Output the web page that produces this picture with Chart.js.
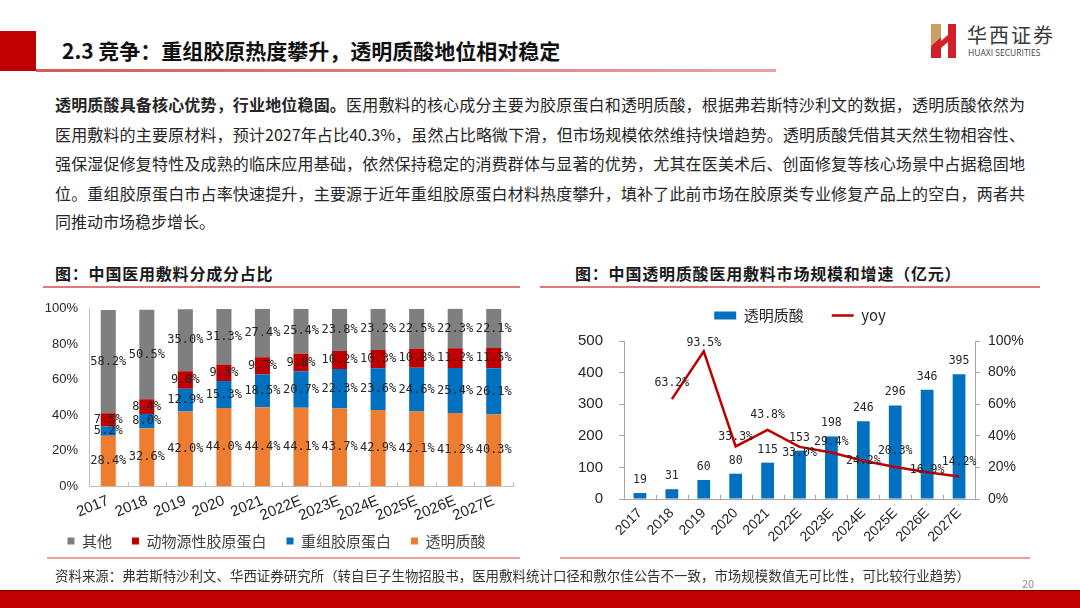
<!DOCTYPE html>
<html>
<head>
<meta charset="utf-8">
<script src="https://cdn.jsdelivr.net/npm/chart.js@4.4.1/dist/chart.umd.min.js"></script>
<style>
  body { margin:0; width:1080px; height:608px; position:relative; overflow:hidden; background:#fff;
         font-family:"Noto Sans CJK SC","Noto Sans",sans-serif; color:#262626; }
  .abs { position:absolute; }
  .line { position:absolute; left:55px; width:970px; font-size:16px; line-height:20px; white-space:nowrap;
          text-align:justify; text-align-last:justify; }
  .ctitle { position:absolute; font-size:16px; font-weight:bold; letter-spacing:0.8px; line-height:20px; color:#1a1a1a; }
  canvas { position:absolute; }
</style>
</head>
<body>
<!-- header -->
<div class="abs" style="left:0;top:31px;width:36px;height:40px;background:#c00000"></div>
<div class="abs" style="left:36px;top:69px;width:740px;height:3px;background:linear-gradient(90deg,#d65a5a,#e9a3a3)"></div>
<div class="abs" style="left:62px;top:36px;font-size:21px;font-weight:bold;line-height:28px;color:#111">2.3 竞争：重组胶原热度攀升，透明质酸地位相对稳定</div>

<svg class="abs" style="left:928px;top:22px" width="32" height="38">
  <polygon points="3,2 13,2 13,15 3,24" fill="#c9a063"/>
  <polygon points="3,24 13,15 13,36 3,36" fill="#d0202a"/>
  <polygon points="13,19 20,13 20,20 13,26" fill="#d0202a"/>
  <polygon points="20,2 28,2 28,36 20,36" fill="#d0202a"/>
</svg>
<div class="abs" style="left:967px;top:23px;font-size:20px;line-height:24px;letter-spacing:2px;color:#3a3a3a">华西证券</div>
<div class="abs" style="left:968px;top:48px;font-family:'Open Sans',sans-serif;font-size:8.5px;line-height:10px;color:#444">HUAXI SECURITIES</div>

<!-- body text -->
<div class="line" style="top:94px"><b>透明质酸具备核心优势，行业地位稳固。</b>医用敷料的核心成分主要为胶原蛋白和透明质酸，根据弗若斯特沙利文的数据，透明质酸依然为</div>
<div class="line" style="top:124px">医用敷料的主要原材料，预计2027年占比40.3%，虽然占比略微下滑，但市场规模依然维持快增趋势。透明质酸凭借其天然生物相容性、</div>
<div class="line" style="top:153px">强保湿促修复特性及成熟的临床应用基础，依然保持稳定的消费群体与显著的优势，尤其在医美术后、创面修复等核心场景中占据稳固地</div>
<div class="line" style="top:183px">位。重组胶原蛋白市占率快速提升，主要源于近年重组胶原蛋白材料热度攀升，填补了此前市场在胶原类专业修复产品上的空白，两者共</div>
<div class="line" style="top:211px;text-align-last:left">同推动市场稳步增长。</div>

<!-- chart titles -->
<div class="ctitle" style="left:55px;top:263px">图：中国医用敷料分成分占比</div>
<div class="ctitle" style="left:575px;top:263px">图：中国透明质酸医用敷料市场规模和增速（亿元）</div>
<div class="abs" style="left:43px;top:286px;width:477px;height:1.5px;background:#e07a7a"></div>
<div class="abs" style="left:540px;top:286px;width:500px;height:1.5px;background:#e07a7a"></div>

<canvas id="shareChart" width="480" height="270" style="left:40px;top:290px"></canvas>
<canvas id="sizeChart" width="480" height="265" style="left:560px;top:280px"></canvas>

<div class="abs" style="left:47px;top:557px;width:473px;height:1.5px;background:#e8a0a0"></div>
<div class="abs" style="left:560px;top:557px;width:470px;height:1.5px;background:#e8a0a0"></div>

<!-- footer -->
<div class="abs" style="left:55px;top:566px;width:915px;font-size:13.4px;line-height:18px;white-space:nowrap;text-align:justify;text-align-last:justify;color:#333">资料来源：弗若斯特沙利文、华西证券研究所（转自巨子生物招股书，医用敷料统计口径和敷尔佳公告不一致，市场规模数值无可比性，可比较行业趋势）</div>
<div class="abs" style="left:1022px;top:576px;font-size:11px;line-height:14px;color:#8c8c8c">20</div>
<div class="abs" style="left:0;top:590px;width:1080px;height:1px;background:#7a0000"></div>
<div class="abs" style="left:0;top:591px;width:1080px;height:17px;background:#c00000"></div>

<script>
"use strict";

// categories
const years = ['2017', '2018', '2019', '2020', '2021', '2022E', '2023E', '2024E', '2025E', '2026E', '2027E'];

// share of dressing ingredients (%)
const hyaluronic = [28.4, 32.6, 42.0, 44.0, 44.4, 44.1, 43.7, 42.9, 42.1, 41.2, 40.3];
const recombinant = [5.2, 8.0, 12.9, 15.3, 18.5, 20.7, 22.3, 23.6, 24.6, 25.4, 26.1];
const animalCollagen = [7.5, 8.4, 9.8, 9.3, 9.7, 9.8, 10.2, 10.3, 10.8, 11.2, 11.5];
const others = [58.2, 50.5, 35.0, 31.3, 27.4, 25.4, 23.8, 23.2, 22.5, 22.3, 22.1];

// hyaluronic acid dressing market (亿元) and growth (%)
const marketSize = [19, 31, 60, 80, 115, 153, 198, 246, 296, 346, 395];
const yoyGrowth = [null, 63.2, 93.5, 33.3, 43.8, 33.0, 29.4, 24.2, 20.3, 16.9, 14.2];

const shareTicks = [0, 20, 40, 60, 80, 100];

const tickFont = { family: 'Liberation Sans, Arial, sans-serif', size: 14 };
const cjkFont = 'Noto Sans CJK SC';

// little tick marks on the category axis, pointing up into the plot
const innerTicks = {
  id: 'innerTicks',
  afterDraw(chart, args, opts) {
    const x = chart.scales.x, ctx = chart.ctx, bottom = chart.chartArea.bottom;
    ctx.save();
    ctx.strokeStyle = opts.color;
    ctx.lineWidth = 1;
    for (let i = 1; i <= x.ticks.length; i++) {
      const px = i < x.ticks.length
        ? (x.getPixelForTick(i - 1) + x.getPixelForTick(i)) / 2
        : x.right;
      ctx.beginPath();
      ctx.moveTo(Math.round(px) + 0.5, bottom);
      ctx.lineTo(Math.round(px) + 0.5, bottom - opts.length);
      ctx.stroke();
    }
    ctx.restore();
  }
};

// fixed legend height; "shift" raises where the items are drawn (legend clips to its box,
// so only the top edge moves)
const legendHeight = {
  id: 'legendHeight',
  beforeInit(chart, args, opts) {
    const fit = chart.legend.fit;
    chart.legend.fit = function () {
      fit.call(this);
      this.height = opts.height;
    };
  },
  afterLayout(chart, args, opts) {
    if (opts.shift) chart.legend.top += opts.shift;
  }
};

const shareLabels = {
  id: 'shareLabels',
  afterDatasetsDraw(chart, args, opts) {
    const ctx = chart.ctx;
    ctx.save();
    ctx.font = opts.font;
    ctx.fillStyle = opts.color;
    ctx.textAlign = 'center';
    ctx.textBaseline = 'middle';
    chart.data.datasets.forEach((ds, di) => {
      chart.getDatasetMeta(di).data.forEach((bar, i) => {
        ctx.fillText(ds.data[i].toFixed(1) + '%', bar.x, (bar.y + bar.base) / 2);
      });
    });
    ctx.restore();
  }
};

const sizeLabels = {
  id: 'sizeLabels',
  afterDatasetsDraw(chart, args, opts) {
    const ctx = chart.ctx;
    ctx.save();
    ctx.font = opts.font;
    ctx.fillStyle = opts.color;
    ctx.textAlign = 'center';
    ctx.textBaseline = 'middle';
    chart.getDatasetMeta(0).data.forEach((bar, i) => {
      ctx.fillText(String(marketSize[i]), bar.x, bar.y - 13);
    });
    chart.getDatasetMeta(1).data.forEach((pt, i) => {
      if (yoyGrowth[i] == null) return;
      ctx.fillText(yoyGrowth[i].toFixed(1) + '%', pt.x, pt.y + opts.lineShift[i]);
    });
    ctx.restore();
  }
};

const barShape = { categoryPercentage: 0.39, barPercentage: 1 };

new Chart(document.getElementById('shareChart'), {
  type: 'bar',
  data: {
    labels: years,
    datasets: [
      { label: '透明质酸', data: hyaluronic, backgroundColor: '#ed7d31', ...barShape },
      { label: '重组胶原蛋白', data: recombinant, backgroundColor: '#0070c0', ...barShape },
      { label: '动物源性胶原蛋白', data: animalCollagen, backgroundColor: '#c00000', ...barShape },
      { label: '其他', data: others, backgroundColor: '#7f7f7f', ...barShape }
    ]
  },
  plugins: [innerTicks, legendHeight, shareLabels],
  options: {
    responsive: false,
    animation: false,
    layout: { padding: { top: 15, right: 7 } },
    plugins: {
      tooltip: { enabled: false },
      legend: {
        position: 'bottom',
        reverse: true,
        labels: { boxWidth: 7, boxHeight: 7, padding: 20, color: '#404040', font: { family: cjkFont, size: 15 } }
      },
      legendHeight: { height: 20, shift: -26.5 },
      innerTicks: { color: '#bfbfbf', length: 4 },
      shareLabels: { font: '12px "DejaVu Sans Mono", monospace', color: '#262626' }
    },
    scales: {
      x: {
        stacked: true,
        grid: { display: false, drawTicks: false },
        border: { color: '#bfbfbf' },
        ticks: { autoSkip: false, minRotation: 22, maxRotation: 22, padding: 6, color: '#262626',
                 font: { family: tickFont.family, size: 15 } },
        afterFit(s) { s.height = 54; }
      },
      y: {
        stacked: true,
        min: 0, max: 100,
        afterBuildTicks(s) { s.ticks = shareTicks.map(v => ({ value: v })); },
        grid: { display: false, drawTicks: false },
        border: { color: '#bfbfbf' },
        ticks: { padding: 11, color: '#262626', font: { family: tickFont.family, size: 13 }, callback: v => v + '%' },
        afterFit(s) { s.width = 49; }
      }
    }
  }
});

new Chart(document.getElementById('sizeChart'), {
  data: {
    labels: years,
    datasets: [
      { type: 'bar', label: '透明质酸', data: marketSize, backgroundColor: '#0070c0', yAxisID: 'y',
        order: 2, pointStyle: 'rect', categoryPercentage: 0.4, barPercentage: 1 },
      { type: 'line', label: 'yoy', data: yoyGrowth, borderColor: '#c00000', backgroundColor: '#c00000',
        borderWidth: 2.5, pointBorderWidth: 2.5, pointRadius: 0, pointStyle: 'line', yAxisID: 'y1', order: 1 }
    ]
  },
  plugins: [innerTicks, legendHeight, sizeLabels],
  options: {
    responsive: false,
    animation: false,
    plugins: {
      tooltip: { enabled: false },
      legend: {
        position: 'top',
        reverse: true,
        labels: { usePointStyle: true, pointStyleWidth: 22, boxHeight: 8, padding: 28, color: '#262626',
                  font: { family: cjkFont, size: 15 } }
      },
      legendHeight: { height: 61 },
      innerTicks: { color: '#a6a6a6', length: 4 },
      sizeLabels: { font: '11.5px "DejaVu Sans Mono", monospace', color: '#262626',
                    lineShift: [0, -16, -8, -9, -15, 6, -11, 0, -16, -2, -15] }
    },
    scales: {
      x: {
        grid: { display: false, drawTicks: false },
        border: { color: '#a6a6a6' },
        ticks: { autoSkip: false, minRotation: 45, maxRotation: 45, padding: 6, color: '#262626', font: tickFont },
        afterFit(s) { s.height = 46; }
      },
      y: {
        position: 'left',
        min: 0, max: 500,
        ticks: { stepSize: 100, padding: 16, color: '#262626', font: { family: tickFont.family, size: 15 } },
        grid: { drawOnChartArea: false, tickLength: 5, color: '#a6a6a6' },
        border: { color: '#a6a6a6' },
        afterFit(s) { s.width = 64; }
      },
      y1: {
        position: 'right',
        min: 0, max: 100,
        ticks: { stepSize: 20, padding: 8, color: '#262626', font: { family: tickFont.family, size: 14 },
                 callback: v => v + '%' },
        grid: { drawOnChartArea: false, tickLength: 5, color: '#a6a6a6' },
        border: { color: '#a6a6a6' },
        afterFit(s) { s.width = 65; }
      }
    }
  }
});
</script>
</body>
</html>
